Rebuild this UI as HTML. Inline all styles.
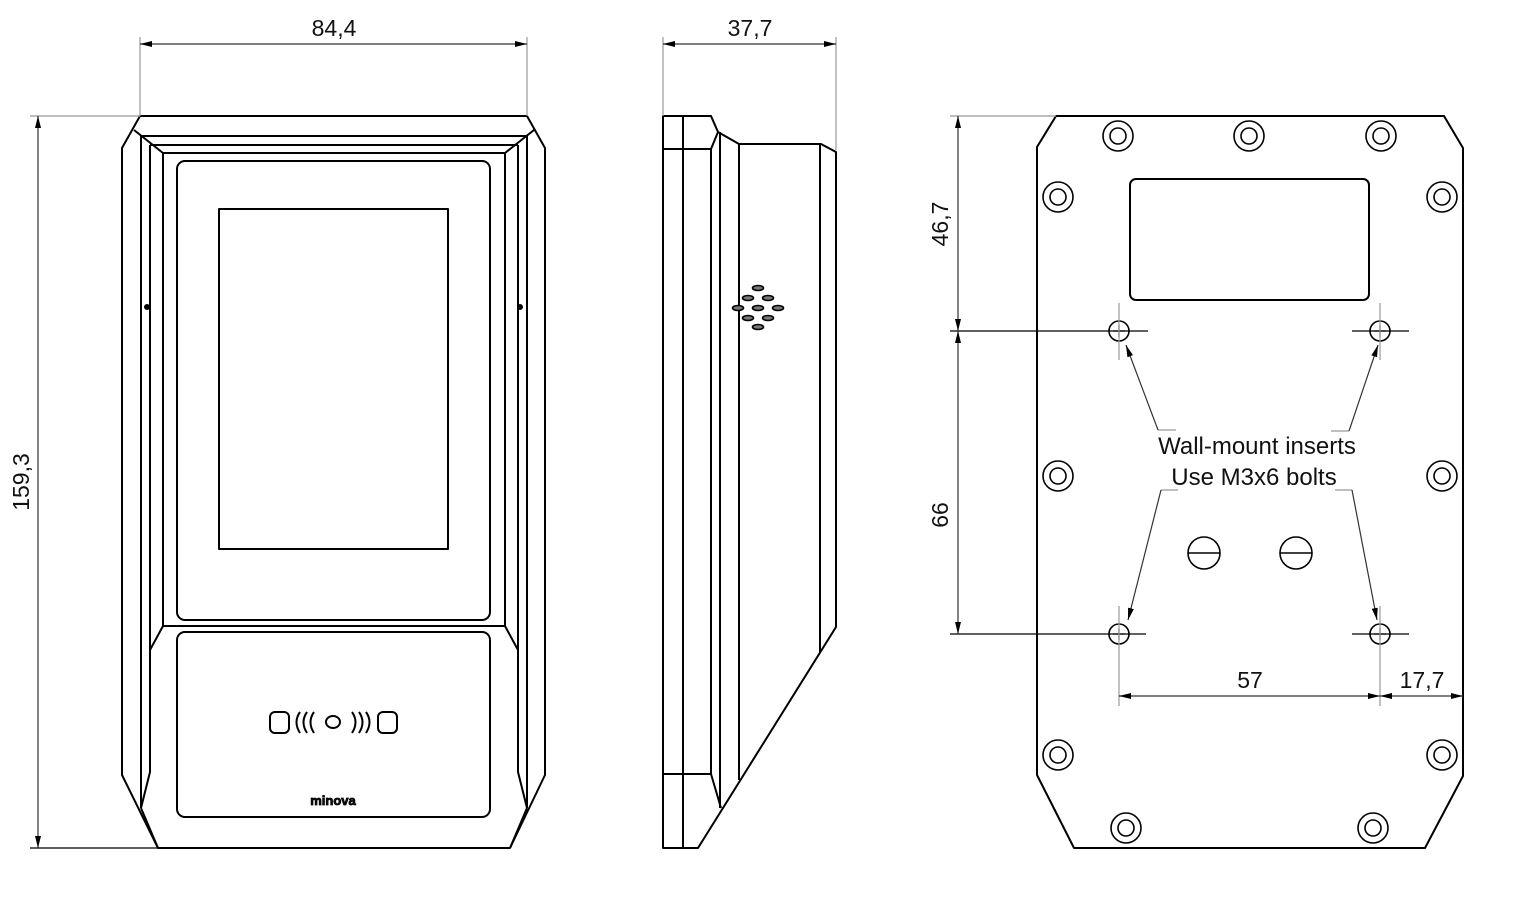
<!DOCTYPE html>
<html><head><meta charset="utf-8"><style>html,body{margin:0;padding:0;background:#fff}svg{display:block}text{font-family:"Liberation Sans",sans-serif;fill:#111}</style></head><body>
<svg width="1514" height="898" viewBox="0 0 1514 898" xmlns="http://www.w3.org/2000/svg">
<defs>
<marker id="a" viewBox="0 0 12 6" refX="12" refY="3" markerWidth="12" markerHeight="6" orient="auto-start-reverse" markerUnits="userSpaceOnUse"><path d="M0,0L12,3L0,6z" fill="#000"/></marker>
</defs>
<g fill="none" stroke="#000" stroke-width="2" stroke-linejoin="round">
<path d="M140,116H527L545,148V775L510,848H158L122,775V148Z"/>
<path d="M134,130L163,153H505L534,130"/>
<path d="M141,136H527M150,145H518"/>
<path d="M141,136V808M150,145V650M163,153V626M527,136V808M518,145V650M505,153V626"/>
<path d="M163,626H505M163,626L150,650M505,626L518,650"/>
<path d="M150,650V772L141,808M518,650V772L527,808"/>
<path d="M141,808L158,848M527,808L510,848"/>
<rect x="177" y="161" width="313" height="459" rx="8"/>
<rect x="219" y="209" width="229" height="340"/>
<rect x="177" y="632" width="313" height="185" rx="8"/>
<circle cx="147" cy="307" r="2" fill="#000"/><circle cx="520" cy="307" r="2" fill="#000"/>
<rect x="270" y="712" width="19" height="21" rx="5"/>
<rect x="378" y="712" width="19" height="21" rx="5"/>
<ellipse cx="333" cy="722" rx="7" ry="6"/>
<path d="M300,712q-7,10 0,21M307,712q-7,10 0,21M314,712q-7,10 0,21M352,712q7,10 0,21M359,712q7,10 0,21M366,712q7,10 0,21"/>
<path d="M663,116H711L718,132L739,144H821L836,152V627L698,848H663Z"/>
<path d="M683,116V848M663,149H711L718,132M663,774H711L721,808"/>
<path d="M711,149V774M720,132V808M739,144V780M820,144V653"/>
<path d="M1056,116H1444L1463,148V776L1425,848H1074L1037,775V147Z"/>
<rect x="1130" y="179" width="239" height="121" rx="6"/>
</g>
<g fill="none" stroke="#000" stroke-width="1.6">
<circle cx="1118" cy="136" r="15"/><circle cx="1118" cy="136" r="8"/>
<circle cx="1249" cy="136" r="15"/><circle cx="1249" cy="136" r="8"/>
<circle cx="1381" cy="136" r="15"/><circle cx="1381" cy="136" r="8"/>
<circle cx="1058" cy="197" r="15"/><circle cx="1058" cy="197" r="8"/>
<circle cx="1442" cy="197" r="15"/><circle cx="1442" cy="197" r="8"/>
<circle cx="1058" cy="476" r="15"/><circle cx="1058" cy="476" r="8"/>
<circle cx="1442" cy="476" r="15"/><circle cx="1442" cy="476" r="8"/>
<circle cx="1058" cy="755" r="15"/><circle cx="1058" cy="755" r="8"/>
<circle cx="1442" cy="755" r="15"/><circle cx="1442" cy="755" r="8"/>
<circle cx="1126" cy="828" r="15"/><circle cx="1126" cy="828" r="8"/>
<circle cx="1373" cy="828" r="15"/><circle cx="1373" cy="828" r="8"/>
<circle cx="1204" cy="553" r="16"/><path d="M1188,553H1220"/>
<circle cx="1296" cy="553" r="16"/><path d="M1280,553H1312"/>
<circle cx="1119" cy="331" r="10"/><circle cx="1380" cy="331" r="10"/>
<circle cx="1119" cy="634" r="10"/><circle cx="1380" cy="634" r="10"/>
</g>
<g fill="none" stroke="#000" stroke-width="1.2">
<path d="M1119,325V337M1113,331H1125M1380,325V337M1374,331H1386M1119,628V640M1113,634H1125M1380,628V640M1374,634H1386"/>
<path d="M950,331H1148M1352,331H1409M950,634H1146M1352,634H1409"/>
</g>
<g fill="#777" stroke="#000" stroke-width="1.6">
<ellipse cx="758" cy="288" rx="5.5" ry="2.5"/>
<ellipse cx="748" cy="298" rx="5.5" ry="2.5"/><ellipse cx="768" cy="298" rx="5.5" ry="2.5"/>
<ellipse cx="738" cy="308" rx="5.5" ry="2.5"/><ellipse cx="758" cy="308" rx="5.5" ry="2.5"/><ellipse cx="778" cy="308" rx="5.5" ry="2.5"/>
<ellipse cx="748" cy="318" rx="5.5" ry="2.5"/><ellipse cx="768" cy="318" rx="5.5" ry="2.5"/>
<ellipse cx="758" cy="327" rx="5.5" ry="2.5"/>
</g>
<g stroke="#999" stroke-width="1.2" fill="none">
<path d="M140,37V116M527,37V116M663,37V116M836,37V150"/>
<path d="M30,116H140M950,116H1056"/>
<path d="M1119,303V360M1380,303V360M1119,606V706M1380,606V706"/>
<path d="M1158,430H1176M1331,431H1349M1161,490H1178M1335,490H1352"/>
</g>
<path d="M30,848H158" stroke="#000" stroke-width="1.2"/>
<g stroke="#333" stroke-width="1.2" fill="none">
<path d="M140,44H527" marker-start="url(#a)" marker-end="url(#a)"/>
<path d="M663,44H836" marker-start="url(#a)" marker-end="url(#a)"/>
<path d="M38,116V848" marker-start="url(#a)" marker-end="url(#a)"/>
<path d="M958,116V331" marker-start="url(#a)" marker-end="url(#a)"/>
<path d="M958,331V634" marker-start="url(#a)" marker-end="url(#a)"/>
<path d="M1119,696H1380" marker-start="url(#a)" marker-end="url(#a)"/>
<path d="M1380,696H1463" marker-start="url(#a)" marker-end="url(#a)"/>
<path d="M1158,430L1126,345" marker-end="url(#a)"/>
<path d="M1349,431L1378,345" marker-end="url(#a)"/>
<path d="M1161,490L1128,620" marker-end="url(#a)"/>
<path d="M1352,490L1377,620" marker-end="url(#a)"/>
</g>
<g font-size="23" text-anchor="middle">
<text x="334" y="36">84,4</text>
<text x="750" y="36">37,7</text>
<text x="1250" y="688">57</text>
<text x="1422" y="688">17,7</text>
<text transform="translate(29,482) rotate(-90)">159,3</text>
<text transform="translate(948,224) rotate(-90)">46,7</text>
<text transform="translate(948,515) rotate(-90)">66</text>
</g>
<g font-size="24" text-anchor="middle">
<text x="1257" y="454">Wall-mount inserts</text>
<text x="1254" y="485">Use M3x6 bolts</text>
</g>
<text x="333" y="805" font-size="13" font-weight="bold" text-anchor="middle" stroke="#000" stroke-width="0.8">minova</text>
</svg>
</body></html>
